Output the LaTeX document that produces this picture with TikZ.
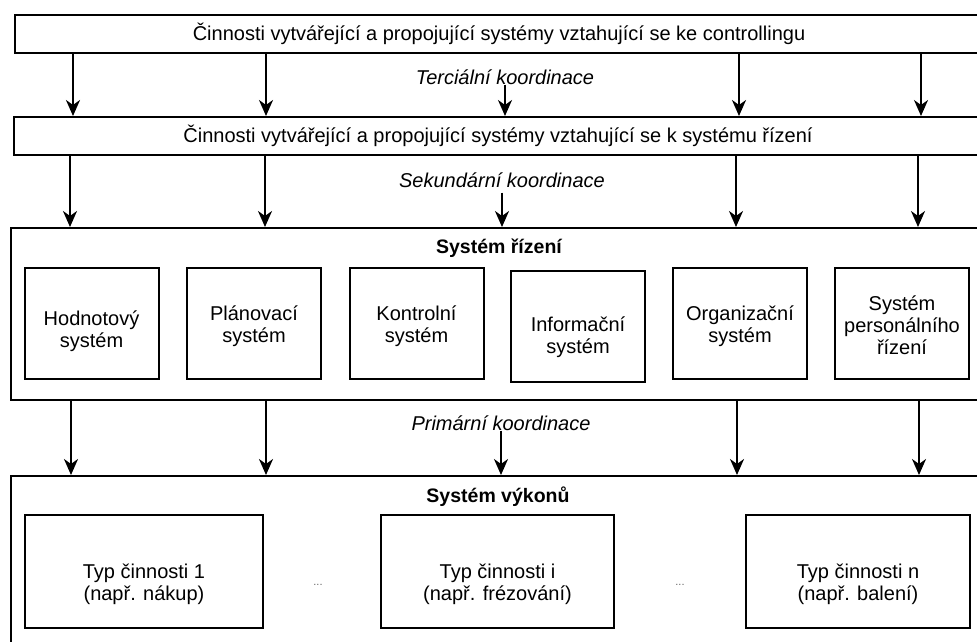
\documentclass[tikz,border=0pt]{standalone}
\usepackage{fontspec}
\setmainfont{Liberation Sans}
\usetikzlibrary{positioning,arrows.meta}

\begin{document}
\begin{tikzpicture}[x=1pt,y=-1pt,
	every node/.append style={font=\fontsize{20}{22}\selectfont},
	box/.style={shape=rectangle,draw,line width=2pt,inner sep=0pt,align=center},
	sysbox/.style={box,minimum width=134pt,minimum height=111pt},
	actbox/.style={box,minimum height=113pt},
	txt/.style={shape=rectangle,inner sep=0pt,align=center},
	koord/.style={txt,font=\fontsize{20}{22}\selectfont\itshape},
	title/.style={txt,font=\fontsize{19.5}{22}\selectfont\bfseries},
	arr/.style={line width=2pt,-{Stealth[length=16pt,width=14pt,inset=5pt]}}]
	\useasboundingbox (0,0) rectangle (977,641);
	\clip (0,0) rectangle (977,641);

	% Top levels
	\node [box,minimum width=968pt,minimum height=38pt] (contr) at (499,34) {Činnosti vytvářející a propojující systémy vztahující se ke controllingu};
	\node [box,minimum width=968pt,minimum height=38pt] (rizact) at (498,136) {Činnosti vytvářející a propojující systémy vztahující se k systému řízení};

	\node [koord] (terc) at (505,77) {Terciální koordinace};
	\node [koord] (sekund) at (502,180) {Sekundární koordinace};
	\node [koord] (primar) at (501,423) {Primární koordinace};

	% Systém řízení
	\node [box,minimum width=975pt,minimum height=172pt] (rizeni) at (498.5,314) {};
	\node [title] (rizenititle) at (499,248) {Systém řízení};

	\node [sysbox] (hodn) at (91.5,323.5) {};
	\node [sysbox] (plan) at (254,323.5) {};
	\node [sysbox] (kontr) at (416.5,323.5) {};
	\node [sysbox] (info) at (578,326) {};
	\node [sysbox] (organ) at (740,323.5) {};
	\node [sysbox] (pers) at (902,323.5) {};

	\node [txt] (hodntxt) at (91.5,331) {Hodnotový\\systém};
	\node [txt] (plantxt) at (254,326) {Plánovací\\systém};
	\node [txt] (kontrtxt) at (416.5,326) {Kontrolní\\systém};
	\node [txt] (infotxt) at (578,337) {Informační\\systém};
	\node [txt] (organtxt) at (740,326) {Organizační\\systém};
	\node [txt] (perstxt) at (902,325) {Systém\\personálního\\řízení};

	% Systém výkonů
	\node [box,minimum width=975pt,minimum height=200pt] (vykon) at (498.5,576) {};
	\node [title] (vykontitle) at (498,497) {Systém výkonů};

	\node [actbox,minimum width=238pt] (typ1) at (144,571.5) {};
	\node [actbox,minimum width=233pt] (typi) at (497.5,571.5) {};
	\node [actbox,minimum width=224pt] (typn) at (858,571.5) {};

	\node [txt] (typ1txt) at (144,584) {Typ činnosti 1\\(např. nákup)};
	\node [txt] (typitxt) at (497.5,584) {Typ činnosti i\\(např. frézování)};
	\node [txt] (typntxt) at (858,584) {Typ činnosti n\\(např. balení)};

	\node [txt,font=\fontsize{11}{13}\selectfont,text=black!60] (dots1) at (318,585) {...};
	\node [txt,font=\fontsize{11}{13}\selectfont,text=black!60] (dots2) at (680,585) {...};

	% Arrows
	\foreach \x in {73,266,739,921}
		\draw [arr] (contr.south -| \x,0) -- (rizact.north -| \x,0);
	\foreach \x in {70,265,736,918}
		\draw [arr] (rizact.south -| \x,0) -- (rizeni.north -| \x,0);
	\foreach \x in {71,266,737,919}
		\draw [arr] (rizeni.south -| \x,0) -- (vykon.north -| \x,0);

	\draw [arr] (terc.south) -- (rizact.north -| terc.south);
	\draw [arr] ([yshift=-5pt]sekund.south) -- (rizeni.north -| sekund.south);
	\draw [arr] (primar.south) -- (vykon.north -| primar.south);
\end{tikzpicture}
\end{document}
